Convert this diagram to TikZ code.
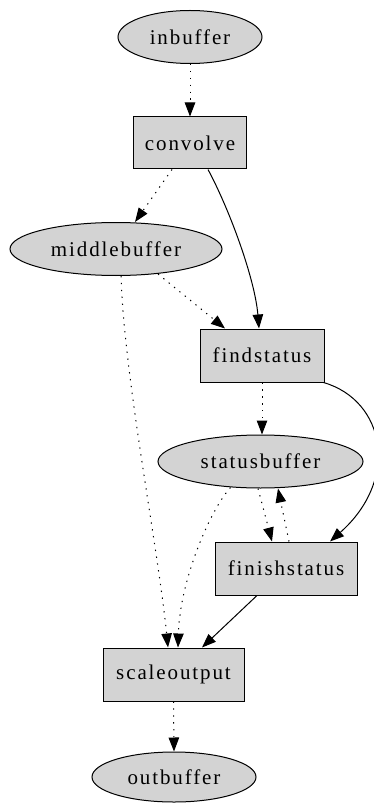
\documentclass[tikz,border=0pt]{standalone}
\usepackage{fontspec}
\setmainfont{Liberation Serif}[LetterSpace=9]
\usetikzlibrary{shapes.geometric,arrows.meta,calc}
\definecolor{gvgray}{RGB}{211,211,211}
\tikzset{
  base/.style={draw=black,fill=gvgray,line width=1pt,inner sep=0pt,font=\fontsize{21}{24}\selectfont,text=black},
  buf/.style={base,ellipse},
  proc/.style={base,rectangle},
  edge/.style={line width=1pt,-{Triangle[length=14pt,width=10.5pt]}},
  dot/.style={edge,dash pattern=on 1.3pt off 5.6pt},
}
\begin{document}
\begin{tikzpicture}[x=1pt,y=-1pt]
\useasboundingbox (0,0) rectangle (373,805);
\node[buf,minimum width=144pt,minimum height=53pt] (inbuffer) at (190,37) {inbuffer};
\node[proc,minimum width=113pt,minimum height=52pt] (convolve) at (190,143) {convolve};
\node[buf,minimum width=212pt,minimum height=53pt] (middlebuffer) at (116,249) {middlebuffer};
\node[proc,minimum width=124pt,minimum height=53pt] (findstatus) at (262,355.5) {findstatus};
\node[buf,minimum width=205pt,minimum height=53pt] (statusbuffer) at (260.5,461.5) {statusbuffer};
\node[proc,minimum width=142pt,minimum height=53pt] (finishstatus) at (286,568.5) {finishstatus};
\node[proc,minimum width=141pt,minimum height=53pt] (scaleoutput) at (173.5,674.5) {scaleoutput};
\node[buf,minimum width=164pt,minimum height=50pt] (outbuffer) at (174,777) {outbuffer};

\draw[dot] (inbuffer.south) -- (convolve.north);
\draw[dot] ($(convolve.south)+(-18,0)$) -- ($(middlebuffer.north)+(19,0)$);
\draw[edge] ($(convolve.south)+(18,0)$) .. controls +(22,41) and +(-4,-49) .. ($(findstatus.north)+(-3,0)$);
\draw[dot] ($(middlebuffer)+(42,25)$) -- ($(findstatus.north)+(-37,0)$);
\draw[dot] ($(middlebuffer)+(5,27)$) .. controls +(3,100) and +(-10,-100) .. ($(scaleoutput.north)+(-5.5,0)$);
\draw[dot] (findstatus.south) -- ($(statusbuffer.north)+(1.5,0)$);
\draw[edge] ($(findstatus.south east)+(-1,0)$) .. controls +(62,18) and +(70,-62) .. ($(finishstatus.north)+(44,0)$);
\draw[dot] ($(statusbuffer)+(-2.5,27)$) -- ($(finishstatus.north)+(-14,0)$);
\draw[dot] ($(finishstatus.north)+(3,0)$) -- ($(statusbuffer)+(17.5,27)$);
\draw[dot] ($(statusbuffer)+(-30,26)$) .. controls +(-20,22) and +(2,-68) .. ($(scaleoutput.north)+(4.5,0)$);
\draw[edge] ($(finishstatus.south)+(-29,0)$) -- ($(scaleoutput.north)+(28.5,0)$);
\draw[dot] (scaleoutput.south) -- (outbuffer.north);
\end{tikzpicture}
\end{document}
